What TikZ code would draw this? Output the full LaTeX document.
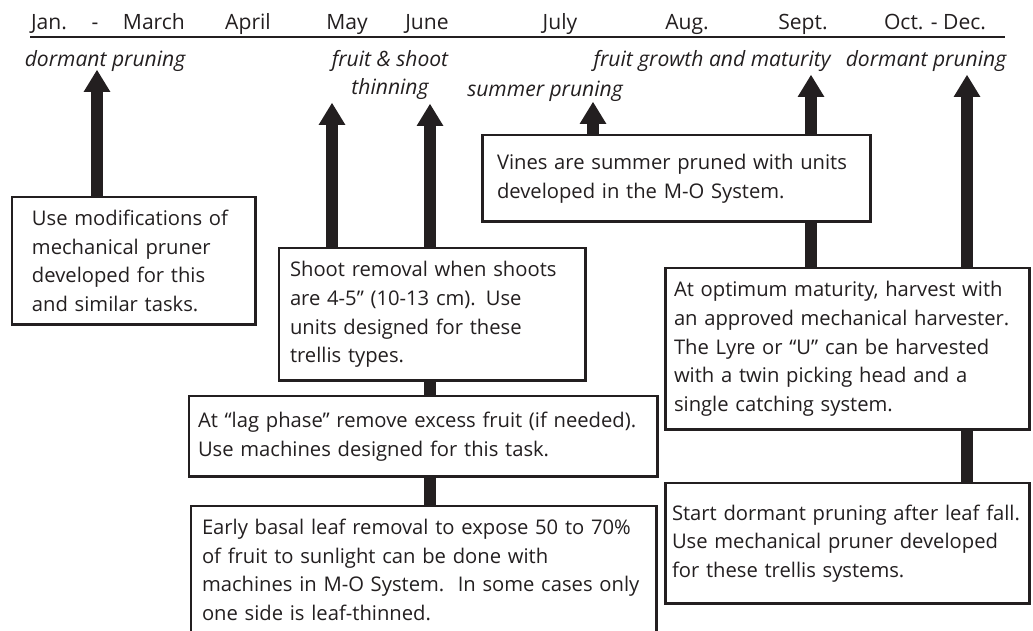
\documentclass[tikz,border=0pt]{standalone}
\usepackage{fontspec}
\setmainfont{Open Sans}
\usetikzlibrary{arrows.meta,backgrounds}
\definecolor{ink}{HTML}{231F20}
\tikzset{
  stage/.style={draw=ink, line width=1.7pt, fill=white, text=ink, anchor=north west, align=left, inner ysep=0pt, outer sep=0pt, font=\fontsize{11.5}{16.3}\selectfont},
  month/.style={anchor=base, text=ink, inner sep=0pt, font=\fontsize{12}{15}\selectfont},
  task/.style={anchor=base, text=ink, inner sep=0pt, font=\fontsize{12}{15}\selectfont\itshape},
  lift/.style={draw=ink, line width=6.8pt, -{Triangle[width=15.3pt,length=12.5pt,line width=0pt]}},
  link/.style={draw=ink, line width=6.8pt}
}
\begin{document}
\begin{tikzpicture}[x=0.02cm, y=-0.02cm]
\useasboundingbox (0,0) rectangle (1033,631);
\draw[ink, line width=1.7pt] (30,37) -- (1005,37);
\node[month] (jan) at (108,30) {Jan.\hspace{14pt}-\hspace{14pt}March};
\node[month] (apr) at (248,30) {April};
\node[month] (may) at (347,30) {May};
\node[month] (jun) at (427,30) {June};
\node[month] (jul) at (560,30) {July};
\node[month] (aug) at (687,30) {Aug.};
\node[month] (sep) at (803,30) {Sept.};
\node[month] (oct) at (935,30) {Oct. - Dec.};

\node[task] (dormA) at (105,67) {dormant pruning};
\node[task] (fruitA) at (390,67) {fruit \& shoot};
\node[task] (fruitB) at (390,95) {thinning};
\node[task] (summer) at (545,97) {summer pruning};
\node[task] (growth) at (712,67) {fruit growth and maturity};
\node[task] (dormB) at (926,67) {dormant pruning};

\coordinate (tipA) at (97,70);
\coordinate (tipB) at (332,103);
\coordinate (tipC) at (430,104);
\coordinate (tipD) at (593,102);
\coordinate (tipE) at (811,75);
\coordinate (tipF) at (967,75);

\node[stage, inner xsep=0.4cm, text width=4.08cm, minimum height=2.56cm] (use) at (12,197)
  {Use modifications of\\mechanical pruner\\developed for this\\and similar tasks.};
\node[stage, inner xsep=0.22cm, text width=5.7cm, minimum height=2.66cm] (shoot) at (279,248)
  {Shoot removal when shoots\\are 4-5” (10-13 cm). Use\\units designed for these\\trellis types.};
\node[stage, inner xsep=0.18cm, text width=9.02cm, minimum height=1.62cm] (lag) at (189,396)
  {At “lag phase” remove excess fruit (if needed).\\Use machines designed for this task.};
\node[stage, inner xsep=0.22cm, text width=8.88cm, minimum height=2.56cm] (basal) at (191,506)
  {Early basal leaf removal to expose 50 to 70\%\\of fruit to sunlight can be done with\\machines in M-O System.\ \ In some cases only\\one side is leaf-thinned.};
\node[stage, inner xsep=0.3cm, text width=7.18cm, minimum height=1.74cm] (vines) at (482,135)
  {Vines are summer pruned with units\\developed in the M-O System.};
\node[stage, inner xsep=0.18cm, text width=6.94cm, minimum height=3.24cm] (harvest) at (665,268)
  {At optimum maturity, harvest with\\an approved mechanical harvester.\\The Lyre or “U” can be harvested\\with a twin picking head and a\\single catching system.};
\node[stage, inner xsep=0.14cm, text width=7.02cm, minimum height=2.42cm] (start) at (665,483)
  {Start dormant pruning after leaf fall.\\Use mechanical pruner developed\\for these trellis systems.};

\begin{scope}[on background layer]
\draw[lift] (use.north -| tipA) -- (tipA);
\draw[lift] (shoot.north -| tipB) -- (tipB);
\draw[lift] (shoot.north -| tipC) -- (tipC);
\draw[lift] (vines.north -| tipD) -- (tipD);
\draw[lift] (harvest.north -| tipE) -- (tipE);
\draw[lift] (harvest.north -| tipF) -- (tipF);
\draw[link] (shoot.south -| tipC) -- (lag.north -| tipC);
\draw[link] (lag.south -| tipC) -- (basal.north -| tipC);
\draw[link] (harvest.south -| tipF) -- (start.north -| tipF);
\end{scope}
\end{tikzpicture}
\end{document}
